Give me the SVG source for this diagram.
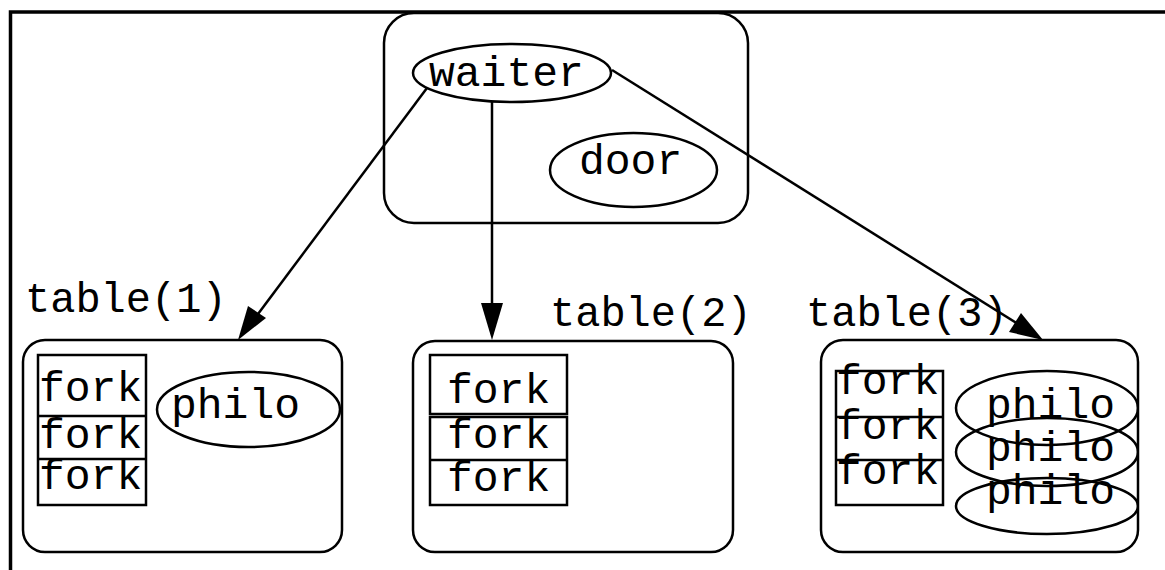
<svg xmlns="http://www.w3.org/2000/svg" width="1165" height="570" viewBox="0 0 1165 570">
<defs>
<style>
.frame{fill:none;stroke:#000;stroke-width:3.5}
.box{fill:none;stroke:#000;stroke-width:2.5}
.cell{fill:none;stroke:#000;stroke-width:2.5}
.t{font-family:"Liberation Mono","Courier New",monospace;font-size:43px;fill:#000}
.lbl{font-family:"Liberation Mono","Courier New",monospace;font-size:42px;fill:#000}
.edge{fill:none;stroke:#000;stroke-width:2.5}
</style>
<clipPath id="c3"><rect x="821" y="340" width="317" height="212" rx="22"/></clipPath>
</defs>
<rect width="1165" height="570" fill="#fff"/>
<path class="frame" d="M10.5,570 L10.5,12 L1165,12"/>

<g id="top">
<rect class="box" x="384" y="13" width="364" height="210" rx="30"/>
<g id="waiter">
<ellipse class="box" cx="512" cy="73" rx="99" ry="29"/>
<text class="t" x="429" y="86">waiter</text>
</g>
<g id="door">
<ellipse class="box" cx="633.5" cy="170" rx="83.5" ry="37"/>
<text class="t" x="579" y="174">door</text>
</g>
</g>

<g id="table1">
<text class="lbl" x="25" y="312">table(1)</text>
<rect class="box" x="23" y="340" width="319" height="212" rx="22"/>
<rect class="cell" x="38" y="355" width="108" height="150"/>
<line class="cell" x1="38" y1="416" x2="146" y2="416"/>
<line class="cell" x1="38" y1="459" x2="146" y2="459"/>
<text class="t" x="39" y="401">fork</text>
<text class="t" x="39" y="448">fork</text>
<text class="t" x="39" y="489">fork</text>
<ellipse class="box" cx="248.5" cy="409.5" rx="91.5" ry="37.5"/>
<text class="t" x="171" y="418">philo</text>
</g>

<g id="table2">
<text class="lbl" x="550" y="326">table(2)</text>
<rect class="box" x="413" y="341" width="320" height="211" rx="22"/>
<rect class="cell" x="430" y="355" width="137" height="59"/>
<rect class="cell" x="430" y="417" width="137" height="88"/>
<line class="cell" x1="430" y1="460" x2="567" y2="460"/>
<text class="t" x="447" y="403">fork</text>
<text class="t" x="447" y="448">fork</text>
<text class="t" x="447" y="491">fork</text>
</g>

<g id="table3">
<text class="lbl" x="806" y="326">table(3)</text>
<rect class="box" x="821" y="340" width="317" height="212" rx="22"/>
<rect class="cell" x="836" y="371" width="107" height="134"/>
<line class="cell" x1="836" y1="417" x2="943" y2="417"/>
<line class="cell" x1="836" y1="460" x2="943" y2="460"/>
<text class="t" x="836" y="394">fork</text>
<text class="t" x="836" y="439">fork</text>
<text class="t" x="836" y="484">fork</text>
<g clip-path="url(#c3)">
<ellipse class="box" cx="1047" cy="408" rx="91" ry="37"/>
<ellipse class="box" cx="1047" cy="452" rx="91" ry="34"/>
<ellipse class="box" cx="1047" cy="506" rx="91" ry="28"/>
</g>
<text class="t" x="986" y="418">philo</text>
<text class="t" x="986" y="461">philo</text>
<text class="t" x="986" y="504">philo</text>
</g>

<g id="connectors">
<line class="edge" x1="427" y1="88" x2="252" y2="322"/>
<polygon points="238,340 248,306 266,318" fill="#000"/>
<line class="edge" x1="492" y1="102" x2="492" y2="305"/>
<polygon points="492,340 481,303 503,303" fill="#000"/>
<line class="edge" x1="612" y1="70" x2="1018" y2="324"/>
<polygon points="1043,340 1021,313 1009,332" fill="#000"/>
</g>
</svg>
